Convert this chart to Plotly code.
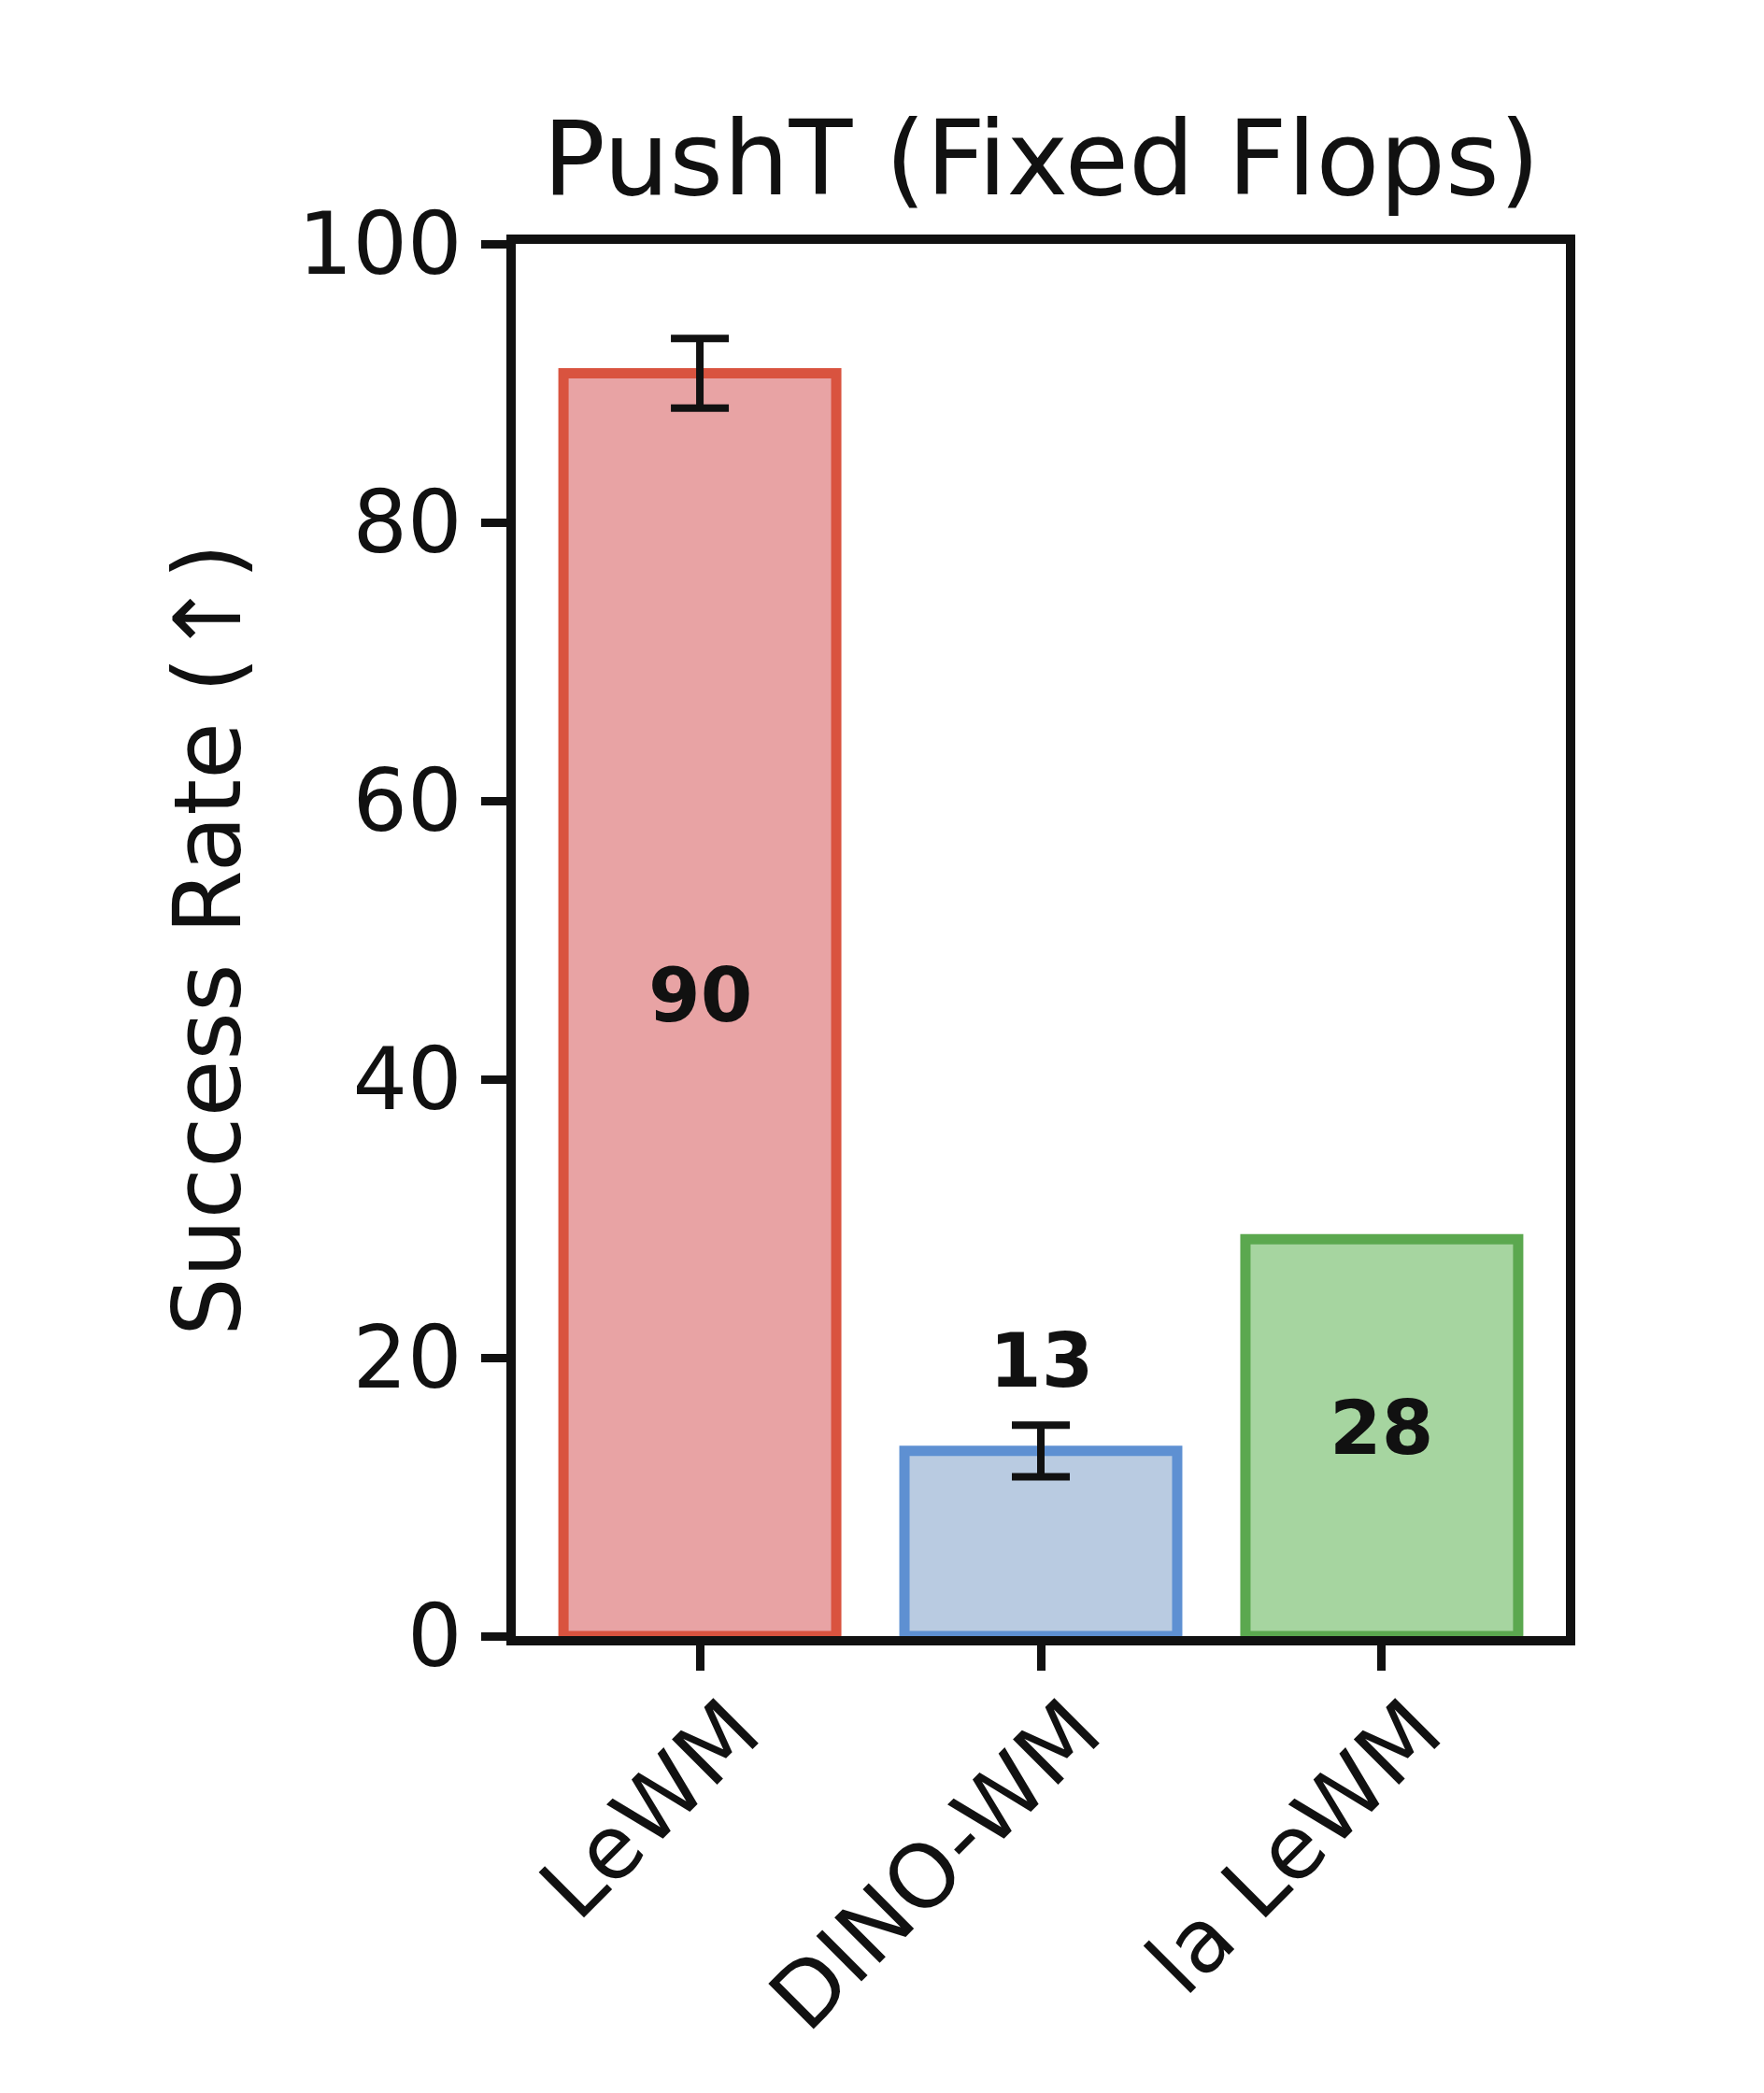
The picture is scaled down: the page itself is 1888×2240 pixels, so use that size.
import plotly.graph_objects as go

# ---- data ----
categories = ["LeWM", "DINO-WM", "la LeWM"]
success = [90.7, 13.3, 28.5]
errors = [2.5, 1.85, None]
labels = ["90", "13", "28"]
fill_colors = ["#E8A3A4", "#B9CBE1", "#A6D5A0"]
edge_colors = ["#D9533F", "#5E90D2", "#5BA84F"]
y_ticks = [0, 20, 40, 60, 80, 100]
title_text = "PushT (Fixed Flops)"
y_title = "Success Rate (↑)"

FONT = "DejaVu Sans"

fig = go.Figure()
fig.add_trace(go.Bar(
    x=categories,
    y=success,
    marker=dict(color=fill_colors, line=dict(color=edge_colors, width=11)),
    hoverinfo="skip",
))

# error bars only where an error is given
err_x = [c for c, e in zip(categories, errors) if e is not None]
err_y = [v for v, e in zip(success, errors) if e is not None]
err_v = [e for e in errors if e is not None]
fig.add_trace(go.Scatter(
    x=err_x, y=err_y, mode="markers",
    marker=dict(size=1, opacity=0),
    error_y=dict(type="data", array=err_v, visible=True,
                 color="#111", thickness=8, width=31),
    hoverinfo="skip",
))

annotations = []
for cat, v, e, lab in zip(categories, success, errors, labels):
    if v > 20:
        annotations.append(dict(x=cat, y=v / 2, xref="x", yref="y", text=f"<b>{lab}</b>",
                                showarrow=False, font=dict(family=FONT, size=80, color="#111"),
                                yanchor="middle", yshift=10))
    else:
        top = v + (e or 0)
        annotations.append(dict(x=cat, y=top + 1.35, xref="x", yref="y", text=f"<b>{lab}</b>",
                                showarrow=False, font=dict(family=FONT, size=80, color="#111"),
                                yanchor="bottom"))

annotations.append(dict(x=0.5, y=1, xref="paper", yref="paper", text=title_text,
                        showarrow=False, yanchor="bottom", yshift=25,
                        font=dict(family=FONT, size=111, color="#111")))
annotations.append(dict(x=0, y=0.5, xref="paper", yref="paper", text=y_title,
                        showarrow=False, xanchor="center", yanchor="middle",
                        xshift=-330, textangle=-90,
                        font=dict(family=FONT, size=99, color="#111")))

fig.update_layout(
    width=1888, height=2240,
    margin=dict(l=544, r=220, t=253, b=497),
    paper_bgcolor="white", plot_bgcolor="white",
    bargap=0.2, showlegend=False,
    font=dict(family=FONT, color="#111"),
    annotations=annotations,
)
fig.update_xaxes(
    type="category", range=[-0.54, 2.54],
    showline=True, mirror=True, linecolor="#111", linewidth=10,
    ticks="outside", ticklen=27, tickwidth=9, tickcolor="#111",
    tickangle=-45, tickfont=dict(family=FONT, size=94, color="#111"),
    ticklabelshift=36, ticklabelstandoff=-28,
    showgrid=False, zeroline=False,
)
fig.update_yaxes(
    range=[0, 100], tickvals=y_ticks,
    showline=True, mirror=True, linecolor="#111", linewidth=10,
    ticks="outside", ticklen=27, tickwidth=9, tickcolor="#111",
    tickfont=dict(family=FONT, size=92, color="#111"),
    ticklabelstandoff=2,
    showgrid=False, zeroline=False,
)

fig.write_html("out.html")
